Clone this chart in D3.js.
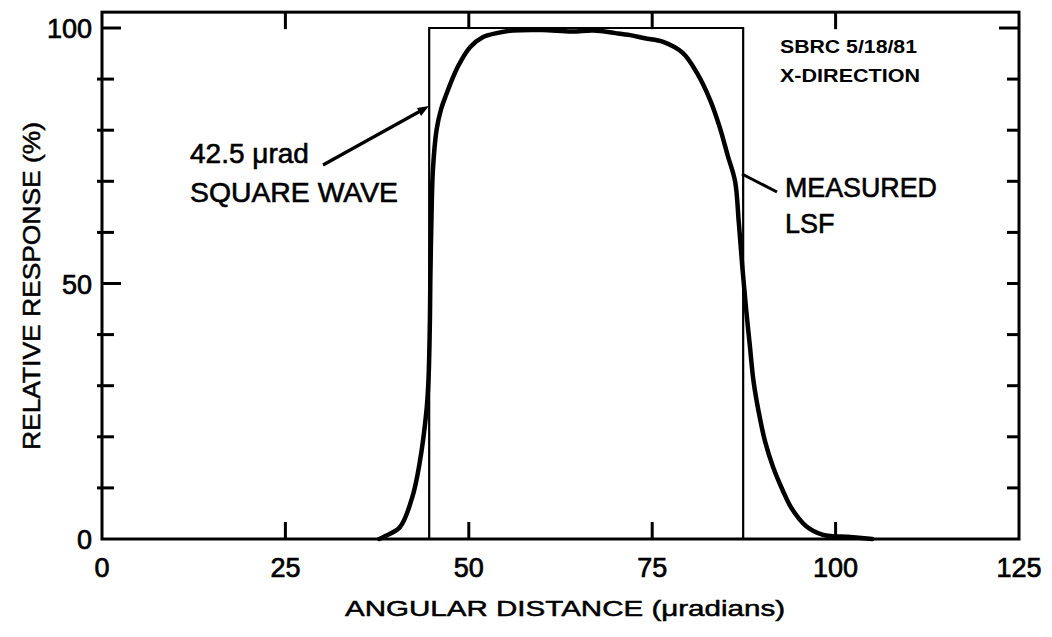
<!DOCTYPE html>
<html>
<head>
<meta charset="utf-8">
<script src="https://cdn.jsdelivr.net/npm/d3@7/dist/d3.min.js"></script>
<style>
  html, body { margin: 0; padding: 0; background: #fff; }
  svg { display: block; }
  text { font-family: "Liberation Sans", Arial, Helvetica, sans-serif; fill: #000; }
</style>
</head>
<body>
<svg id="chart" width="1052" height="637"></svg>
<script>
// ---- data ----
const lsfX = [37.8, 38.5, 40.6, 42.3, 43.3, 44.2, 44.5, 44.7, 44.75, 44.9, 45.1, 45.6, 46.2, 46.8, 48.5, 50.2, 51.9, 53.8, 56, 60, 64, 67, 70, 72, 74, 76.5, 79.2, 81.1, 82.9, 84.2, 85.3, 86.3, 86.8, 87.3, 87.8, 88.3, 88.8, 89.5, 90.4, 91.5, 92.8, 94, 96, 98.3, 102, 105];
const lsfY = [0, 0.5, 2.3, 8.2, 14.9, 24.7, 31, 43, 50, 62, 72, 80, 84, 86.5, 92.4, 96.3, 98.2, 99, 99.5, 99.6, 99.3, 99.5, 99.0, 98.6, 98.0, 97.3, 95.1, 91.2, 85.9, 80.6, 75, 70, 62, 53, 45, 38, 31, 25, 19, 14, 9.5, 6, 2.5, 0.8, 0.4, 0];
const squareX = [44.6, 44.6, 87.4, 87.4];
const squareY = [0, 100, 100, 0];
const xTickValues = [0, 25, 50, 75, 100, 125];
const xTickLabels = ["0", "25", "50", "75", "100", "125"];
const yMinorTicks = [10, 20, 30, 40, 60, 70, 80, 90];
const yMajorTicks = [0, 50, 100];
const yTickLabels = ["0", "50", "100"];
const xDomain = [0, 125];
const yDomain = [0, 100];
const yFrameTop = 103.1;

// ---- layout ----
const svg = d3.select("#chart");
const x = d3.scaleLinear().domain(xDomain).range([102, 1019]);
const y = d3.scaleLinear().domain(yDomain).range([539, 28]);

// frame
svg.append("rect")
  .attr("x", x(0)).attr("y", y(yFrameTop))
  .attr("width", x(125) - x(0)).attr("height", y(0) - y(yFrameTop))
  .attr("fill", "none").attr("stroke", "#000").attr("stroke-width", 3);

// left axis ticks
svg.selectAll(".lminor").data(yMinorTicks).enter().append("line")
  .attr("x1", x(0) - 5).attr("x2", x(0) + 12)
  .attr("y1", d => y(d)).attr("y2", d => y(d))
  .attr("stroke", "#000").attr("stroke-width", 3);
svg.selectAll(".lmajor").data(yMajorTicks.filter(d => d > 0)).enter().append("line")
  .attr("x1", x(0)).attr("x2", x(0) + 19)
  .attr("y1", d => y(d)).attr("y2", d => y(d))
  .attr("stroke", "#000").attr("stroke-width", 3);
// right axis ticks
svg.selectAll(".rminor").data(yMinorTicks.concat([50])).enter().append("line")
  .attr("x1", x(125) - 12).attr("x2", x(125))
  .attr("y1", d => y(d)).attr("y2", d => y(d))
  .attr("stroke", "#000").attr("stroke-width", 3);
svg.append("line")
  .attr("x1", x(125) - 20).attr("x2", x(125))
  .attr("y1", y(100)).attr("y2", y(100))
  .attr("stroke", "#000").attr("stroke-width", 3);
// bottom & top ticks
const innerX = xTickValues.filter(d => d > 0 && d < 125);
svg.selectAll(".bt").data(innerX).enter().append("line")
  .attr("x1", d => x(d)).attr("x2", d => x(d))
  .attr("y1", y(0)).attr("y2", y(0) - 17)
  .attr("stroke", "#000").attr("stroke-width", 3);
svg.selectAll(".tt").data(innerX).enter().append("line")
  .attr("x1", d => x(d)).attr("x2", d => x(d))
  .attr("y1", y(yFrameTop)).attr("y2", y(yFrameTop) + 17)
  .attr("stroke", "#000").attr("stroke-width", 3);

// tick labels
svg.selectAll(".xl").data(xTickValues).enter().append("text")
  .attr("x", d => x(d)).attr("y", 577)
  .attr("text-anchor", "middle").attr("font-size", 27)
  .attr("stroke", "#000").attr("stroke-width", 0.7)
  .text((d, i) => xTickLabels[i]);
svg.selectAll(".yl").data(yMajorTicks).enter().append("text")
  .attr("x", 92).attr("y", d => y(d) + 10)
  .attr("text-anchor", "end").attr("font-size", 27)
  .attr("stroke", "#000").attr("stroke-width", 0.7)
  .text((d, i) => yTickLabels[i]);

// axis titles
svg.append("text")
  .attr("x", 345).attr("y", 616)
  .attr("font-size", 22).attr("textLength", 440).attr("lengthAdjust", "spacingAndGlyphs")
  .attr("stroke", "#000").attr("stroke-width", 0.5)
  .text("ANGULAR DISTANCE (\u03bcradians)");
svg.append("text")
  .attr("transform", "translate(40,450) rotate(-90)")
  .attr("font-size", 24).attr("textLength", 328).attr("lengthAdjust", "spacingAndGlyphs")
  .attr("stroke", "#000").attr("stroke-width", 0.5)
  .text("RELATIVE RESPONSE (%)");

// square wave
const sq = squareX.map((d, i) => [d, squareY[i]]);
svg.append("path")
  .attr("d", d3.line().x(d => x(d[0])).y(d => y(d[1]))(sq))
  .attr("fill", "none").attr("stroke", "#000").attr("stroke-width", 2.2);

// measured LSF
const lsf = lsfX.map((d, i) => [d, lsfY[i]]);
svg.append("path")
  .attr("d", d3.line().x(d => x(d[0])).y(d => y(d[1])).curve(d3.curveCatmullRom.alpha(0.5))(lsf))
  .attr("fill", "none").attr("stroke", "#000").attr("stroke-width", 4.5)
  .attr("stroke-linejoin", "round").attr("stroke-linecap", "round");

// annotations
svg.append("text").attr("x", 190).attr("y", 163).attr("font-size", 28)
  .attr("stroke", "#000").attr("stroke-width", 0.6).text("42.5 \u03bcrad");
svg.append("text").attr("x", 190).attr("y", 202).attr("font-size", 28)
  .attr("textLength", 208).attr("lengthAdjust", "spacingAndGlyphs")
  .attr("stroke", "#000").attr("stroke-width", 0.6).text("SQUARE WAVE");
svg.append("line").attr("x1", 323).attr("y1", 165).attr("x2", 424).attr("y2", 109)
  .attr("stroke", "#000").attr("stroke-width", 3.2);
svg.append("path").attr("d", "M429,106 L417,108 L421,116 Z").attr("fill", "#000");

svg.append("text").attr("x", 785).attr("y", 197).attr("font-size", 27)
  .attr("textLength", 152).attr("lengthAdjust", "spacingAndGlyphs")
  .attr("stroke", "#000").attr("stroke-width", 0.6).text("MEASURED");
svg.append("text").attr("x", 785).attr("y", 233).attr("font-size", 27)
  .attr("stroke", "#000").attr("stroke-width", 0.6).text("LSF");
svg.append("line").attr("x1", 777).attr("y1", 192).attr("x2", 742).attr("y2", 174)
  .attr("stroke", "#000").attr("stroke-width", 3);

svg.append("text").attr("x", 780).attr("y", 53).attr("font-size", 19).attr("font-weight", "bold")
  .attr("textLength", 137).attr("lengthAdjust", "spacingAndGlyphs").text("SBRC 5/18/81");
svg.append("text").attr("x", 780).attr("y", 82).attr("font-size", 19).attr("font-weight", "bold")
  .attr("textLength", 140).attr("lengthAdjust", "spacingAndGlyphs").text("X-DIRECTION");
</script>
</body>
</html>
